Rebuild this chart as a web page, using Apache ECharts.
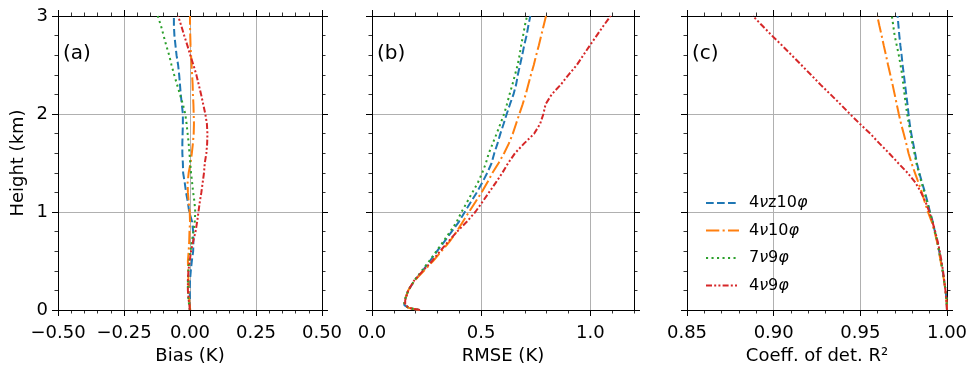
<!DOCTYPE html>
<html><head><meta charset="utf-8">
<script src="https://cdn.jsdelivr.net/npm/echarts@6/dist/echarts.min.js"></script>
<style>html,body{margin:0;padding:0;background:#fff}#c{width:977px;height:374px}</style>
</head><body><div id="c"></div>
<script>
// ---- data ----
const heights = [0, 0.02, 0.05, 0.1, 0.2, 0.3, 0.4, 0.5, 0.6, 0.7, 0.8, 0.9, 1.0, 1.1, 1.2, 1.3, 1.4, 1.5, 1.6, 1.7, 1.8, 1.9, 2.0, 2.1, 2.2, 2.3, 2.4, 2.5, 2.6, 2.7, 2.8, 2.9, 3.0];
const seriesNames = ['4νz10φ', '4ν10φ', '7ν9φ', '4ν9φ'];

const bias_4vz10 = [0.000, 0.000, 0.000, 0.000, -0.001, 0.000, 0.003, 0.007, 0.012, 0.013, 0.012, 0.008, -0.003, -0.008, -0.015, -0.020, -0.026, -0.027, -0.029, -0.029, -0.028, -0.027, -0.027, -0.031, -0.035, -0.038, -0.041, -0.045, -0.051, -0.055, -0.059, -0.061, -0.061];
const bias_4v10 = [0.001, 0.000, -0.001, -0.003, -0.005, -0.006, -0.007, -0.008, -0.005, -0.003, -0.002, 0.000, -0.001, -0.005, -0.008, -0.009, -0.005, 0.002, 0.007, 0.011, 0.014, 0.015, 0.014, 0.013, 0.011, 0.010, 0.008, 0.006, 0.004, 0.002, 0.001, 0.000, 0.000];
const bias_7v9 = [-0.001, -0.002, -0.003, -0.006, -0.008, -0.008, -0.006, -0.003, 0.002, 0.007, 0.013, 0.018, 0.020, 0.017, 0.012, 0.008, 0.004, 0.001, -0.002, -0.005, -0.009, -0.013, -0.018, -0.027, -0.038, -0.049, -0.060, -0.070, -0.079, -0.090, -0.100, -0.110, -0.122];
const bias_4v9 = [-0.001, -0.001, -0.002, -0.005, -0.008, -0.008, -0.006, -0.001, 0.004, 0.012, 0.021, 0.027, 0.032, 0.037, 0.043, 0.048, 0.053, 0.056, 0.062, 0.065, 0.066, 0.064, 0.058, 0.050, 0.042, 0.033, 0.024, 0.013, 0.001, -0.010, -0.022, -0.033, -0.045];

const rmse_4vz10 = [0.215, 0.170, 0.148, 0.150, 0.166, 0.195, 0.232, 0.265, 0.298, 0.332, 0.365, 0.398, 0.425, 0.452, 0.480, 0.505, 0.528, 0.548, 0.560, 0.575, 0.588, 0.603, 0.617, 0.632, 0.648, 0.660, 0.668, 0.678, 0.688, 0.697, 0.708, 0.716, 0.725];
const rmse_4v10 = [0.215, 0.170, 0.148, 0.150, 0.166, 0.195, 0.238, 0.280, 0.318, 0.356, 0.388, 0.416, 0.444, 0.473, 0.502, 0.528, 0.552, 0.580, 0.605, 0.627, 0.645, 0.660, 0.675, 0.690, 0.704, 0.716, 0.728, 0.741, 0.752, 0.764, 0.775, 0.786, 0.797];
const rmse_7v9 = [0.215, 0.170, 0.148, 0.150, 0.166, 0.193, 0.228, 0.262, 0.295, 0.327, 0.358, 0.388, 0.410, 0.435, 0.460, 0.485, 0.505, 0.522, 0.535, 0.553, 0.571, 0.588, 0.605, 0.618, 0.630, 0.643, 0.655, 0.667, 0.676, 0.683, 0.692, 0.700, 0.710];
const rmse_4v9 = [0.220, 0.172, 0.152, 0.152, 0.166, 0.193, 0.233, 0.275, 0.312, 0.350, 0.390, 0.434, 0.473, 0.505, 0.536, 0.567, 0.597, 0.624, 0.655, 0.697, 0.743, 0.770, 0.785, 0.795, 0.823, 0.865, 0.900, 0.938, 0.968, 0.998, 1.029, 1.060, 1.093];

const r2_4vz10 = [1.0000, 1.0000, 0.9999, 0.9997, 0.9992, 0.9983, 0.9975, 0.9965, 0.9955, 0.9944, 0.9930, 0.9918, 0.9902, 0.9888, 0.9873, 0.9856, 0.9840, 0.9826, 0.9816, 0.9805, 0.9794, 0.9785, 0.9778, 0.9772, 0.9765, 0.9758, 0.9751, 0.9744, 0.9738, 0.9731, 0.9725, 0.9720, 0.9715];
const r2_4v10 = [1.0000, 1.0000, 0.9999, 0.9997, 0.9991, 0.9983, 0.9974, 0.9963, 0.9953, 0.9942, 0.9928, 0.9912, 0.9890, 0.9872, 0.9855, 0.9835, 0.9815, 0.9795, 0.9778, 0.9765, 0.9750, 0.9735, 0.9722, 0.9710, 0.9698, 0.9686, 0.9673, 0.9660, 0.9648, 0.9635, 0.9623, 0.9610, 0.9598];
const r2_7v9 = [1.0000, 1.0000, 0.9999, 0.9997, 0.9992, 0.9983, 0.9975, 0.9965, 0.9955, 0.9944, 0.9930, 0.9917, 0.9901, 0.9886, 0.9870, 0.9853, 0.9838, 0.9823, 0.9812, 0.9800, 0.9790, 0.9780, 0.9770, 0.9762, 0.9755, 0.9748, 0.9741, 0.9732, 0.9722, 0.9710, 0.9698, 0.9690, 0.9682];
const r2_4v9 = [1.0000, 1.0000, 0.9998, 0.9996, 0.9991, 0.9984, 0.9977, 0.9968, 0.9958, 0.9946, 0.9932, 0.9916, 0.9898, 0.9877, 0.9850, 0.9818, 0.9772, 0.9718, 0.9666, 0.9610, 0.9557, 0.9497, 0.9440, 0.9385, 0.9328, 0.9270, 0.9215, 0.9160, 0.9104, 0.9048, 0.8990, 0.8935, 0.8880];

const panelLabels = ['(a)', '(b)', '(c)'];
const xNames = ['Bias (K)', 'RMSE (K)', 'Coeff. of det. R²'];
const yName = 'Height (km)';

// ---- styling ----
const FONT = "'DejaVu Sans', sans-serif";
const colors = ['#1f77b4', '#ff7f0e', '#2ca02c', '#d62728'];
const dashes = [[7.7, 3.3], [13.3, 3.3, 2.1, 3.3], [2.1, 3.4], [6, 2.2, 2, 2.2, 2, 2.2]];
const panelData = [
  [bias_4vz10, bias_4v10, bias_7v9, bias_4v9],
  [rmse_4vz10, rmse_4v10, rmse_7v9, rmse_4v9],
  [r2_4vz10, r2_4v10, r2_7v9, r2_4v9]
];
const grids = [
  {left: 58, top: 16, width: 264, height: 294},
  {left: 372, top: 16, width: 262, height: 294},
  {left: 687, top: 16, width: 260, height: 294}
];
const xCfg = [
  {min: -0.5, max: 0.5, interval: 0.25, fmt: v => (v < 0 ? '\u2212' : '') + Math.abs(v).toFixed(2), overlay: false},
  {min: 0, max: 1.2, interval: 0.5, fmt: v => v.toFixed(1), overlay: true},
  {min: 0.85, max: 1.0, interval: 0.05, fmt: v => v.toFixed(2), overlay: false}
];

const lineBlack = {color: '#000', width: 1};
const xAxes = [], yAxes = [], series = [], graphics = [];

xCfg.forEach((c, gi) => {
  const base = {gridIndex: gi, type: 'value', min: c.min, max: c.max, interval: c.interval,
    axisLine: {show: true, onZero: false, lineStyle: lineBlack},
    axisTick: {show: true, inside: false, length: 6, lineStyle: lineBlack},
    minorTick: {show: !c.overlay, splitNumber: 5, length: 3.5, lineStyle: {color: '#000', width: 0.8}},
    minorSplitLine: {show: false}
  };
  const bi = xAxes.length;
  xAxes.push(Object.assign({}, base, {position: 'bottom',
    axisLabel: {show: true, formatter: c.fmt, color: '#000', fontFamily: FONT, fontSize: 18, margin: 14,
      showMaxLabel: c.overlay ? false : null},
    splitLine: {show: true, lineStyle: {color: '#b0b0b0', width: 1}},
    name: xNames[gi], nameLocation: 'middle', nameGap: 36,
    nameTextStyle: {color: '#000', fontFamily: FONT, fontSize: 18}}));
  xAxes.push(Object.assign({}, base, {position: 'top', axisLabel: {show: false}, splitLine: {show: false}}));
  if (c.overlay) {
    ['bottom', 'top'].forEach(pos => {
      xAxes.push({gridIndex: gi, type: 'value', min: c.min, max: c.max, interval: c.interval / 5, position: pos,
        axisLine: {show: false, onZero: false}, axisLabel: {show: false}, splitLine: {show: false},
        axisTick: {show: true, inside: false, length: 3.5, lineStyle: {color: '#000', width: 0.8}}});
    });
  }
  const yb = {gridIndex: gi, type: 'value', min: 0, max: 3, interval: 1,
    axisLine: {show: true, onZero: false, lineStyle: lineBlack},
    axisTick: {show: true, inside: false, length: 6, lineStyle: lineBlack},
    minorTick: {show: true, splitNumber: 5, length: 3.5, lineStyle: {color: '#000', width: 0.8}}
  };
  const yi = yAxes.length;
  yAxes.push(Object.assign({}, yb, {position: 'left',
    axisLabel: {show: gi === 0, color: '#000', fontFamily: FONT, fontSize: 18, margin: 10, formatter: v => String(v)},
    splitLine: {show: true, lineStyle: {color: '#b0b0b0', width: 1}},
    name: gi === 0 ? yName : '', nameLocation: 'middle', nameGap: 31,
    nameTextStyle: {color: '#000', fontFamily: FONT, fontSize: 18}}));
  yAxes.push(Object.assign({}, yb, {position: 'right', axisLabel: {show: false}, splitLine: {show: false}}));

  panelData[gi].forEach((vals, si) => {
    series.push({
      type: 'line', name: seriesNames[si], xAxisIndex: bi, yAxisIndex: yi,
      data: heights.map((h, k) => [vals[k], h]),
      symbol: 'none', showSymbol: false, animation: false, z: 3 + si,
      lineStyle: {color: colors[si], width: 2, type: dashes[si]},
      itemStyle: {color: colors[si]}
    });
  });

  graphics.push({type: 'text', left: grids[gi].left + 5, top: 44,
    style: {text: panelLabels[gi], font: '20px ' + FONT, fill: '#000'}});
});

const chart = echarts.init(document.getElementById('c'), null, {renderer: 'canvas'});
chart.setOption({
  animation: false,
  backgroundColor: '#fff',
  grid: grids,
  xAxis: xAxes,
  yAxis: yAxes,
  series: series,
  graphic: graphics,
  legend: {
    data: seriesNames, orient: 'vertical', left: 700, top: 190,
    itemWidth: 33, itemHeight: 14, itemGap: 11.5,
    itemStyle: {opacity: 0},
    textStyle: {color: '#000', fontFamily: FONT, fontSize: 16,
      rich: {i: {fontStyle: 'italic', fontFamily: FONT, fontSize: 16, color: '#000'},
             p: {width: 5}}},
    formatter: n => '{p| }' + n.replace(/([νφ])/g, '{i|$1}'),
    backgroundColor: 'transparent', borderWidth: 0
  }
});
</script></body></html>
